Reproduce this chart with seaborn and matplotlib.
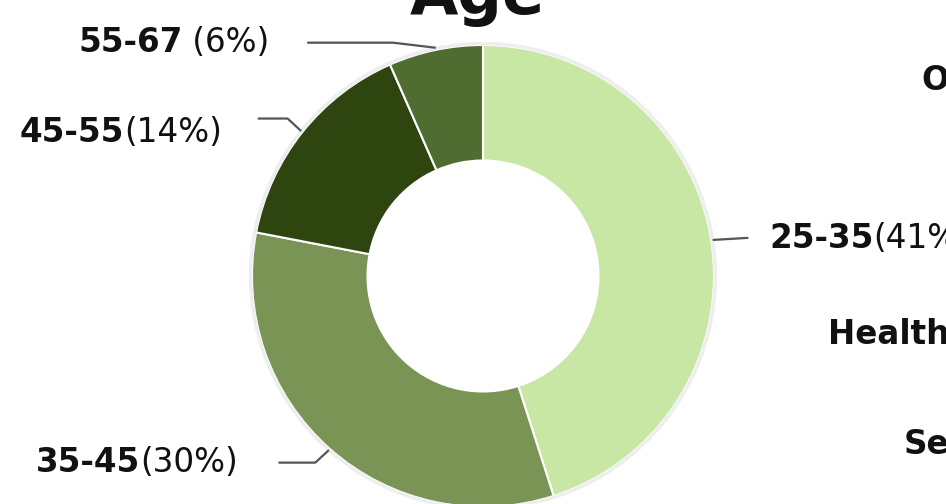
import numpy as np
import seaborn as sns
from matplotlib import pyplot as plt
from matplotlib.patches import Circle

# age groups and their counts (percent labels as shown on the chart)
age_groups = ['25-35', '35-45', '45-55', '55-67']
age_share = [41, 30, 14, 6]
pct_labels = ['(41%)', '(30%)', '(14%)', ' (6%)']
slice_colors = ['#c8e6a4', '#7a9455', '#2e4510', '#4f6c31']

# neighbouring chart labels, cut off at the right edge
side_labels = ['O', 'Health', 'Se']

sns.set_theme(style='white')
plt.rcParams['font.family'] = ['DejaVu Sans']

W, H = 946, 504
fig = plt.figure(figsize=(W / 100, H / 100), dpi=100)
fig.patch.set_facecolor('white')

# donut centre and radius in pixels
cx, cy, rad = 483, 276, 231
ax = fig.add_axes([(cx - rad) / W, (H - cy - rad) / H, 2 * rad / W, 2 * rad / H])

wedges, _ = ax.pie(age_share, colors=sns.color_palette(slice_colors), startangle=90,
                   counterclock=False, radius=1,
                   wedgeprops=dict(width=0.5, edgecolor='white', linewidth=1.5))
ax.set_xlim(-1, 1)
ax.set_ylim(-1, 1)
ax.axis('off')
for w in wedges:
    w.set_clip_on(False)
ax.add_patch(Circle((0, 0), 1.006, fill=False, edgecolor='#eeeeee', lw=2.5, clip_on=False))

px = 1 / rad  # one pixel in data units
# leader line shape: (elbow dx, elbow dy, horizontal length, text x in px, text y in px)
leaders = [
    (34, 2, 0, 769, 238),
    (-13, -12, -36, 36, 463),
    (-13, 12, -29, 20, 133),
    (-42, 5, -85, 78, 42),
]

fs = 23.5
for w, lab, pct, (ex, ey, hl, tx, ty) in zip(wedges, age_groups, pct_labels, leaders):
    mid = np.deg2rad((w.theta1 + w.theta2) / 2)
    x0, y0 = 1.01 * np.cos(mid), 1.01 * np.sin(mid)
    x1, y1 = x0 + ex * px, y0 + ey * px
    x2 = x1 + hl * px
    ax.plot([x0, x1, x2], [y0, y1, y1], color='#555555', lw=1.6, clip_on=False,
            solid_capstyle='round')
    t = fig.text(tx / W, 1 - ty / H, lab, fontsize=fs, fontweight='bold',
                 color='#111111', ha='left', va='center')
    fig.canvas.draw()
    ax.annotate(pct, xy=(1, 0), xycoords=t, fontsize=fs, color='#111111',
                ha='left', va='bottom', annotation_clip=False)

# title, mostly above the frame
fig.text(477 / W, 1 - 14 / H, 'Age', fontsize=45, fontweight='bold',
         color='#111111', ha='center', va='baseline')

for s, (sx, sy) in zip(side_labels, [(921, 80), (828, 335), (904, 444)]):
    fig.text(sx / W, 1 - sy / H, s, fontsize=fs, fontweight='bold',
             color='#111111', ha='left', va='center')

fig.savefig('out.png', dpi=100, facecolor='white')
